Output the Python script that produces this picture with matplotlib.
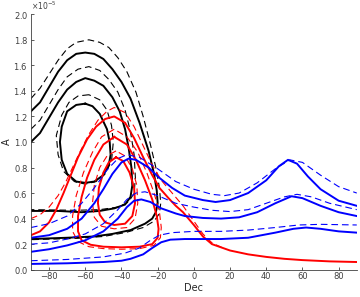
import numpy as np
import matplotlib
matplotlib.use('Agg')
import matplotlib.pyplot as plt
from matplotlib.ticker import ScalarFormatter

# values, A in units of 1e-5
# ---- black loops ----
k_out_dec = [-90, -85, -80, -75, -70, -65, -60, -55, -50, -45, -40, -35, -30, -25, -22, -20.5, -20, -21, -23, -27, -35, -45, -55, -70, -90]
k_out_A = [1.24, 1.31, 1.43, 1.55, 1.64, 1.69, 1.70, 1.69, 1.65, 1.57, 1.47, 1.34, 1.15, 0.93, 0.75, 0.62, 0.52, 0.45, 0.40, 0.36, 0.31, 0.28, 0.26, 0.25, 0.24]
k_out_d_dec = [-90, -85, -80, -75, -70, -65, -58, -52, -47, -42, -37, -32, -28, -24, -21, -19, -18.3, -19, -22, -28, -38, -50, -65, -90]
k_out_d_A = [1.34, 1.42, 1.53, 1.64, 1.73, 1.78, 1.80, 1.78, 1.74, 1.66, 1.55, 1.39, 1.20, 0.98, 0.80, 0.64, 0.52, 0.44, 0.38, 0.33, 0.29, 0.26, 0.245, 0.235]

k_mid_dec = [-90, -85, -80, -75, -70, -65, -60, -55, -50, -45, -41, -38, -36, -34.5, -34, -35, -38, -44, -52, -62, -75, -90]
k_mid_A = [1.00, 1.07, 1.19, 1.31, 1.41, 1.47, 1.50, 1.48, 1.44, 1.35, 1.24, 1.10, 0.95, 0.80, 0.66, 0.57, 0.51, 0.48, 0.46, 0.45, 0.46, 0.46]
k_mid_d_dec = [-90, -85, -80, -75, -70, -64, -58, -52, -47, -42, -38, -35, -33, -32.3, -33, -36, -42, -52, -65, -90]
k_mid_d_A = [1.10, 1.17, 1.29, 1.41, 1.51, 1.57, 1.59, 1.56, 1.49, 1.39, 1.25, 1.08, 0.90, 0.72, 0.60, 0.53, 0.49, 0.47, 0.465, 0.47]

k_in_dec = [-60, -65, -70, -73, -74, -73, -70, -65, -60, -55, -50, -47, -46, -46.5, -48, -52, -56, -60]
k_in_A = [1.30, 1.29, 1.24, 1.12, 1.00, 0.86, 0.75, 0.69, 0.68, 0.69, 0.74, 0.82, 0.90, 1.00, 1.10, 1.22, 1.28, 1.30]
k_in_d_dec = [-58, -64, -69, -73, -76, -75, -72, -66, -60, -54, -49, -45.5, -44.5, -45.5, -48, -52, -58]
k_in_d_A = [1.37, 1.36, 1.31, 1.21, 1.05, 0.90, 0.77, 0.69, 0.67, 0.69, 0.75, 0.85, 1.00, 1.13, 1.25, 1.33, 1.37]

# ---- red curves ----
r_out_dec = [-90, -85, -80, -76, -72, -68, -64, -59, -54, -49, -44, -38, -33, -28, -23, -19, -14, -10, -6, 0, 5, 10, 20, 30, 40, 50, 60, 75, 90]
r_out_A = [0.27, 0.30, 0.37, 0.47, 0.60, 0.74, 0.88, 1.02, 1.12, 1.18, 1.20, 1.15, 1.03, 0.88, 0.74, 0.64, 0.56, 0.50, 0.45, 0.35, 0.26, 0.20, 0.15, 0.12, 0.10, 0.085, 0.075, 0.065, 0.06]
r_out_d_dec = [-90, -85, -80, -75, -71, -67, -63, -58, -53, -48, -44, -38, -33, -28, -23, -18, -12, -6, 0, 5, 10, 16]
r_out_d_A = [0.40, 0.43, 0.49, 0.58, 0.68, 0.80, 0.92, 1.06, 1.17, 1.24, 1.27, 1.23, 1.12, 0.97, 0.82, 0.70, 0.60, 0.50, 0.38, 0.28, 0.21, 0.17]

r_mid_dec = [-44, -50, -55, -59, -62, -64, -64, -62, -57, -50, -40, -30, -23, -20, -19.5, -20.5, -23, -27, -32, -37, -44]
r_mid_A = [1.04, 0.98, 0.86, 0.72, 0.57, 0.42, 0.30, 0.23, 0.195, 0.18, 0.175, 0.18, 0.20, 0.25, 0.32, 0.42, 0.55, 0.70, 0.86, 0.98, 1.04]
r_mid_d_dec = [-44, -51, -56, -61, -65, -67, -67, -64, -58, -50, -40, -30, -22, -18.5, -18, -19, -22, -26, -31, -37, -44]
r_mid_d_A = [1.10, 1.04, 0.92, 0.76, 0.58, 0.42, 0.30, 0.22, 0.18, 0.165, 0.16, 0.165, 0.19, 0.25, 0.33, 0.45, 0.60, 0.76, 0.92, 1.04, 1.10]

r_in_dec = [-43, -47, -50, -52.5, -53, -52, -49, -44, -38, -34, -32.5, -33, -35.5, -39, -43]
r_in_A = [0.88, 0.84, 0.76, 0.64, 0.52, 0.43, 0.37, 0.35, 0.36, 0.42, 0.52, 0.64, 0.76, 0.85, 0.88]
r_in_d_dec = [-43, -48, -52, -55, -56, -55, -51, -44, -37, -32.5, -31, -31.5, -34, -38, -43]
r_in_d_A = [0.93, 0.89, 0.80, 0.66, 0.52, 0.41, 0.34, 0.32, 0.33, 0.40, 0.52, 0.66, 0.79, 0.89, 0.93]

# ---- blue curves ----
b_top_dec = [-90, -80, -70, -62, -55, -50, -45, -40, -36, -32, -25, -20, -12, -5, 5, 12, 20, 30, 40, 47, 52, 57, 63, 70, 80, 90]
b_top_A = [0.25, 0.27, 0.32, 0.40, 0.52, 0.63, 0.75, 0.84, 0.87, 0.86, 0.80, 0.73, 0.64, 0.58, 0.545, 0.53, 0.545, 0.60, 0.70, 0.81, 0.86, 0.83, 0.73, 0.63, 0.54, 0.50]
b_top_d_dec = [-90, -80, -70, -62, -55, -48, -42, -37, -30, -20, -10, 0, 10, 17, 25, 35, 45, 53, 60, 70, 80, 90]
b_top_d_A = [0.33, 0.36, 0.42, 0.52, 0.64, 0.78, 0.87, 0.90, 0.88, 0.79, 0.69, 0.63, 0.59, 0.58, 0.60, 0.68, 0.79, 0.86, 0.84, 0.74, 0.65, 0.60]

b_mid_dec = [-90, -80, -70, -60, -50, -42, -37, -33, -29, -24, -18, -10, -5, 5, 15, 25, 35, 45, 54, 60, 70, 80, 90]
b_mid_A = [0.14, 0.16, 0.19, 0.23, 0.30, 0.40, 0.49, 0.54, 0.55, 0.53, 0.48, 0.44, 0.42, 0.405, 0.40, 0.41, 0.45, 0.52, 0.575, 0.56, 0.50, 0.45, 0.42]
b_mid_d_dec = [-90, -80, -70, -60, -50, -42, -37, -32, -27, -20, -10, 0, 10, 20, 30, 40, 50, 57, 65, 75, 90]
b_mid_d_A = [0.20, 0.21, 0.24, 0.28, 0.36, 0.47, 0.55, 0.60, 0.61, 0.58, 0.52, 0.49, 0.465, 0.455, 0.47, 0.52, 0.57, 0.59, 0.57, 0.52, 0.47]

b_bot_dec = [-90, -70, -50, -40, -35, -28, -23, -18, -13, -5, 15, 30, 45, 55, 62, 70, 80, 90]
b_bot_A = [0.045, 0.05, 0.06, 0.07, 0.085, 0.12, 0.17, 0.215, 0.235, 0.24, 0.24, 0.25, 0.29, 0.32, 0.33, 0.32, 0.30, 0.29]
b_bot_d_dec = [-90, -70, -50, -38, -30, -24, -19, -12, 0, 15, 30, 45, 58, 70, 90]
b_bot_d_A = [0.07, 0.08, 0.10, 0.13, 0.17, 0.23, 0.27, 0.29, 0.30, 0.30, 0.31, 0.33, 0.35, 0.355, 0.35]

xticks = [-80, -60, -40, -20, 0, 20, 40, 60, 80]
yticks = [0, 0.2, 0.4, 0.6, 0.8, 1, 1.2, 1.4, 1.6, 1.8, 2]

fig = plt.figure(figsize=(3.6, 2.97), dpi=100)
ax = fig.add_axes([0.086, 0.092, 0.905, 0.86])

lw_s = 1.4
lw_d = 0.8
dash = (0, (6, 3.5))

def draw(dec, A, color, dashed):
    y = np.array(A) * 1e-5
    if dashed:
        ax.plot(dec, y, color=color, lw=lw_d, linestyle=dash)
    else:
        ax.plot(dec, y, color=color, lw=lw_s)

# black
draw(k_out_dec, k_out_A, 'k', False)
draw(k_out_d_dec, k_out_d_A, 'k', True)
draw(k_mid_dec, k_mid_A, 'k', False)
draw(k_mid_d_dec, k_mid_d_A, 'k', True)
draw(k_in_dec, k_in_A, 'k', False)
draw(k_in_d_dec, k_in_d_A, 'k', True)
# red
draw(r_out_dec, r_out_A, 'red', False)
draw(r_out_d_dec, r_out_d_A, 'red', True)
draw(r_mid_dec, r_mid_A, 'red', False)
draw(r_mid_d_dec, r_mid_d_A, 'red', True)
draw(r_in_dec, r_in_A, 'red', False)
draw(r_in_d_dec, r_in_d_A, 'red', True)
# blue
draw(b_top_dec, b_top_A, 'blue', False)
draw(b_top_d_dec, b_top_d_A, 'blue', True)
draw(b_mid_dec, b_mid_A, 'blue', False)
draw(b_mid_d_dec, b_mid_d_A, 'blue', True)
draw(b_bot_dec, b_bot_A, 'blue', False)
draw(b_bot_d_dec, b_bot_d_A, 'blue', True)

ax.set_xlim(-90, 90)
ax.set_ylim(0, 2e-5)
ax.set_xticks(xticks)
ax.set_yticks([v * 1e-5 for v in yticks])
fmt = ScalarFormatter(useMathText=True)
fmt.set_powerlimits((0, 0))
ax.yaxis.set_major_formatter(fmt)
ax.yaxis.get_offset_text().set_fontsize(5.5)
ax.yaxis.get_offset_text().set_color('#404040')

gray = '#404040'
for s in ['top', 'right']:
    ax.spines[s].set_visible(False)
for s in ['left', 'bottom']:
    ax.spines[s].set_color(gray)
    ax.spines[s].set_linewidth(0.6)
ax.tick_params(direction='in', length=2.5, width=0.6, colors=gray, labelsize=6, pad=2)
ax.set_xlabel('Dec', fontsize=7, color='#262626', labelpad=1)
ax.set_ylabel('A', fontsize=7, color='#262626', labelpad=1)

fig.savefig('out.png', dpi=100)
